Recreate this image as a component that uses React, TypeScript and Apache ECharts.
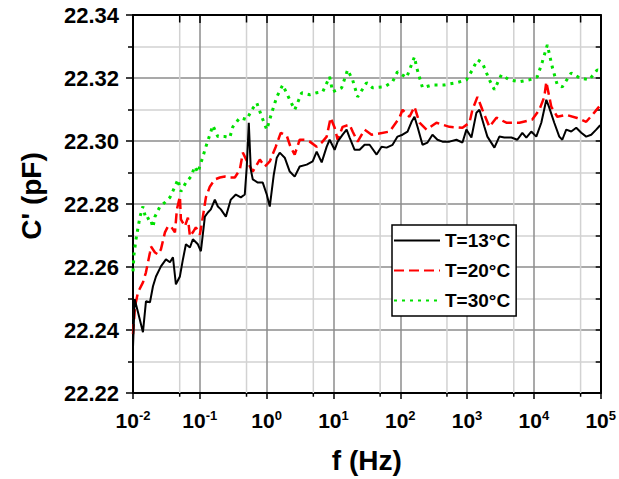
import React, { useEffect, useRef } from "react";
import * as echarts from "echarts";

// x values are log10(f / Hz)
const xTickExponents = [-2, -1, 0, 1, 2, 3, 4, 5];
const yTickLabels = ["22.22", "22.24", "22.26", "22.28", "22.30", "22.32", "22.34"];
const seriesNames = ["T=13°C", "T=20°C", "T=30°C"];

const logF13 = [
  -2.0, -1.975, -1.925, -1.851, -1.806, -1.746, -1.701, -1.656, -1.582, -1.507,
  -1.447, -1.402, -1.358, -1.298, -1.253, -1.208, -1.148, -1.104, -1.029, -0.984,
  -0.924, -0.879, -0.835, -0.775, -0.73, -0.685, -0.61, -0.536, -0.461, -0.386,
  -0.327, -0.297, -0.267, -0.237, -0.207, -0.132, -0.058, 0.002, 0.047, 0.107,
  0.152, 0.196, 0.271, 0.346, 0.42, 0.495, 0.6, 0.689, 0.749, 0.824,
  0.899, 0.943, 1.018, 1.063, 1.138, 1.197, 1.242, 1.317, 1.392, 1.466,
  1.541, 1.646, 1.72, 1.795, 1.885, 1.959, 2.034, 2.109, 2.169, 2.213,
  2.258, 2.333, 2.408, 2.482, 2.557, 2.632, 2.736, 2.841, 2.931, 2.99,
  3.065, 3.14, 3.185, 3.259, 3.304, 3.409, 3.483, 3.558, 3.663, 3.752,
  3.827, 3.887, 3.961, 4.036, 4.111, 4.186, 4.23, 4.305, 4.38, 4.425,
  4.484, 4.559, 4.634, 4.709, 4.783, 4.858, 4.933, 4.992,
];
const c13 = [
  22.2346, 22.2498, 22.2456, 22.2393, 22.2491, 22.2488, 22.2539, 22.257, 22.2602, 22.2624,
  22.2615, 22.2631, 22.2545, 22.257, 22.2624, 22.2672, 22.2662, 22.2688, 22.2672, 22.265,
  22.276, 22.2773, 22.2783, 22.2814, 22.2792, 22.2783, 22.276, 22.2814, 22.283, 22.2821,
  22.283, 22.2919, 22.3058, 22.2909, 22.2878, 22.2868, 22.2868, 22.283, 22.2792, 22.2893,
  22.2947, 22.2963, 22.2947, 22.2903, 22.2887, 22.2919, 22.2925, 22.2935, 22.2966, 22.2932,
  22.2982, 22.3004, 22.2972, 22.2998, 22.302, 22.3036, 22.3011, 22.2972, 22.2972, 22.2988,
  22.2988, 22.2957, 22.2982, 22.2979, 22.2988, 22.3014, 22.302, 22.303, 22.3061, 22.3077,
  22.3045, 22.2988, 22.2995, 22.302, 22.3004, 22.2998, 22.2998, 22.3004, 22.2995, 22.3036,
  22.3011, 22.309, 22.3099, 22.3045, 22.3014, 22.2979, 22.3014, 22.3011, 22.3011, 22.3004,
  22.3026, 22.3011, 22.303, 22.3014, 22.3058, 22.3131, 22.3106, 22.3058, 22.3014, 22.3004,
  22.3036, 22.303, 22.3042, 22.3026, 22.3014, 22.302, 22.3036, 22.305,
];

const logF20 = [
  -2.0, -1.97, -1.925, -1.851, -1.806, -1.746, -1.731, -1.671, -1.626, -1.582,
  -1.522, -1.477, -1.432, -1.372, -1.343, -1.298, -1.283, -1.223, -1.178, -1.148,
  -1.104, -1.059, -0.999, -0.954, -0.909, -0.85, -0.775, -0.7, -0.625, -0.551,
  -0.476, -0.401, -0.356, -0.282, -0.207, -0.102, -0.028, 0.047, 0.137, 0.211,
  0.301, 0.361, 0.42, 0.495, 0.57, 0.645, 0.749, 0.824, 0.899, 0.958,
  1.018, 1.063, 1.138, 1.242, 1.287, 1.362, 1.466, 1.571, 1.661, 1.84,
  1.989, 2.034, 2.139, 2.213, 2.288, 2.393, 2.542, 2.736, 2.931, 3.035,
  3.08, 3.155, 3.229, 3.334, 3.439, 3.588, 3.782, 3.976, 4.081, 4.156,
  4.186, 4.26, 4.35, 4.484, 4.634, 4.783, 4.903, 4.977,
];
const c20 = [
  22.2387, 22.2475, 22.252, 22.2551, 22.2583, 22.2646, 22.2665, 22.2646, 22.264, 22.2656,
  22.271, 22.2729, 22.2729, 22.271, 22.2783, 22.2824, 22.2751, 22.2729, 22.2757, 22.2697,
  22.271, 22.2726, 22.2703, 22.276, 22.2821, 22.2855, 22.2878, 22.2884, 22.2887, 22.2884,
  22.2884, 22.2909, 22.2963, 22.2931, 22.2903, 22.2941, 22.2919, 22.2935, 22.2982, 22.3026,
  22.3017, 22.2979, 22.2957, 22.3004, 22.3004, 22.2998, 22.2982, 22.2995, 22.3014, 22.3074,
  22.3042, 22.3004, 22.3045, 22.3052, 22.303, 22.2998, 22.3036, 22.302, 22.3023, 22.303,
  22.3074, 22.3099, 22.3077, 22.3109, 22.3058, 22.3036, 22.3058, 22.3045, 22.3042, 22.3058,
  22.3099, 22.314, 22.3099, 22.3045, 22.3074, 22.3058, 22.3058, 22.3068, 22.3099, 22.314,
  22.3188, 22.3109, 22.3077, 22.3083, 22.3074, 22.3061, 22.309, 22.3109,
];

const logF30 = [
  -2.0, -1.985, -1.955, -1.895, -1.851, -1.806, -1.746, -1.701, -1.671, -1.597,
  -1.522, -1.447, -1.372, -1.328, -1.283, -1.208, -1.133, -1.074, -1.029, -0.954,
  -0.909, -0.85, -0.805, -0.73, -0.625, -0.551, -0.506, -0.401, -0.297, -0.222,
  -0.147, -0.073, 0.002, 0.077, 0.152, 0.241, 0.346, 0.42, 0.525, 0.645,
  0.749, 0.839, 0.943, 0.988, 1.123, 1.212, 1.287, 1.362, 1.496, 1.586,
  1.765, 1.885, 1.959, 2.094, 2.213, 2.243, 2.333, 2.482, 2.662, 2.841,
  2.99, 3.08, 3.155, 3.229, 3.334, 3.409, 3.513, 3.633, 3.782, 3.932,
  4.051, 4.126, 4.201, 4.275, 4.35, 4.425, 4.559, 4.679, 4.828, 4.948,
  5.0,
];
const c30 = [
  22.2586, 22.264, 22.2688, 22.276, 22.2792, 22.2751, 22.2757, 22.2726, 22.276, 22.2792,
  22.2805, 22.2821, 22.2855, 22.2878, 22.284, 22.2868, 22.2887, 22.2919, 22.29, 22.295,
  22.2982, 22.302, 22.3049, 22.3014, 22.3014, 22.3011, 22.3045, 22.3074, 22.3068, 22.3099,
  22.3121, 22.3077, 22.3036, 22.309, 22.314, 22.3178, 22.3131, 22.3099, 22.3153, 22.3147,
  22.3153, 22.3156, 22.3204, 22.3156, 22.3169, 22.3226, 22.3194, 22.314, 22.3185, 22.3169,
  22.3172, 22.3188, 22.322, 22.3201, 22.3267, 22.3235, 22.3169, 22.3178, 22.3178, 22.3185,
  22.3194, 22.3226, 22.3258, 22.3248, 22.3194, 22.3163, 22.321, 22.3194, 22.3188, 22.3194,
  22.3204, 22.3251, 22.3305, 22.3235, 22.3178, 22.3172, 22.3216, 22.3201, 22.3194, 22.3226,
  22.322,
];

const FONT = "'Liberation Sans', Arial, Helvetica, sans-serif";
const zip = (xs: number[], ys: number[]) =>
  xs.slice(0, Math.min(xs.length, ys.length)).map((x, i) => [x, ys[i]]);

// vertical segments at given x positions, separated by gaps
const segments = (xs: number[], y0: number, y1: number) => {
  const out: (number | string)[][] = [];
  xs.forEach((x) => {
    out.push([x, y0], [x, y1], [x, "-"]);
  });
  return out;
};

export default function App() {
  const ref = useRef<HTMLDivElement>(null);

  useEffect(() => {
    if (!ref.current) return;
    const chart = echarts.init(ref.current, null, { renderer: "svg" });
    const xMin = xTickExponents[0];
    const xMax = xTickExponents[xTickExponents.length - 1];
    const yMin = Number(yTickLabels[0]);
    const yMax = Number(yTickLabels[yTickLabels.length - 1]);
    // minor decade grid at 5 x 10^n
    const minorX = xTickExponents.slice(0, -1).map((e) => e + Math.log10(5));

    const helper = (data: (number | string)[][], color: string, z: number) => ({
      type: "line",
      data,
      z,
      silent: true,
      clip: false,
      symbol: "none",
      showSymbol: false,
      connectNulls: false,
      lineStyle: { color, width: 1.5 },
      itemStyle: { color },
      tooltip: { show: false },
    });

    chart.setOption({
      animation: false,
      backgroundColor: "#fff",
      textStyle: { fontFamily: FONT },
      grid: { left: 133, right: 17, top: 15, bottom: 85, containLabel: false },
      legend: {
        data: seriesNames,
        orient: "vertical",
        left: 392,
        top: 225,
        itemWidth: 46,
        itemHeight: 14,
        itemGap: 11,
        padding: [6, 6, 6, 1],
        borderColor: "#000",
        borderWidth: 1.5,
        borderRadius: 0,
        backgroundColor: "#fff",
        itemStyle: { opacity: 0 },
        textStyle: { fontSize: 19, fontWeight: "bold", color: "#000", fontFamily: FONT },
      },
      xAxis: [
        {
          type: "value",
          min: xMin,
          max: xMax,
          interval: 1,
          position: "bottom",
          name: "f (Hz)",
          nameLocation: "middle",
          nameGap: 53,
          nameTextStyle: { fontSize: 28, fontWeight: "bold", color: "#000", fontFamily: FONT },
          axisLine: { onZero: false, lineStyle: { color: "#000", width: 2 } },
          axisTick: { show: true, length: 6, lineStyle: { color: "#000", width: 1.5 } },
          axisLabel: {
            margin: 16,
            color: "#000",
            formatter: (v: number) => `{b|10}{s|${v}}`,
            rich: {
              b: { fontSize: 21, fontWeight: "bold", color: "#000", fontFamily: FONT, lineHeight: 22 },
              s: {
                fontSize: 13,
                fontWeight: "bold",
                color: "#000",
                fontFamily: FONT,
                lineHeight: 14,
                verticalAlign: "top",
              },
            },
          },
          splitLine: { show: true, lineStyle: { color: "#8c8c8c", width: 1.5 } },
        },
        {
          type: "value",
          min: xMin,
          max: xMax,
          interval: 1,
          position: "top",
          axisLine: { onZero: false, lineStyle: { color: "#000", width: 2 } },
          axisTick: { show: true, inside: true, length: 8, lineStyle: { color: "#000", width: 1.5 } },
          axisLabel: { show: false },
          splitLine: { show: false },
        },
      ],
      yAxis: [
        {
          type: "value",
          min: yMin,
          max: yMax,
          interval: 0.02,
          name: "C' (pF)",
          nameLocation: "middle",
          nameGap: 88,
          nameRotate: 90,
          nameTextStyle: {
            fontSize: 28,
            fontWeight: "bold",
            color: "#000",
            fontFamily: FONT,
            padding: [0, 0, 0, 16],
          },
          axisLine: { onZero: false, lineStyle: { color: "#000", width: 2 } },
          axisTick: { show: true, length: 7, lineStyle: { color: "#000", width: 1.5 } },
          minorTick: { show: true, splitNumber: 2, length: 5, lineStyle: { color: "#000", width: 1.5 } },
          axisLabel: {
            margin: 14,
            fontSize: 22,
            fontWeight: "bold",
            color: "#000",
            fontFamily: FONT,
            formatter: (v: number) => v.toFixed(2),
          },
          splitLine: { show: true, lineStyle: { color: "#8c8c8c", width: 1.5 } },
          minorSplitLine: { show: true, lineStyle: { color: "#d2d2d2", width: 1.5 } },
        },
        {
          type: "value",
          min: yMin,
          max: yMax,
          interval: 0.01,
          position: "right",
          axisLine: { onZero: false, lineStyle: { color: "#000", width: 2 } },
          axisTick: { show: true, inside: true, length: 5, lineStyle: { color: "#000", width: 1.5 } },
          axisLabel: { show: false },
          splitLine: { show: false },
        },
      ],
      series: [
        helper(segments(minorX, yMin, yMax), "#d2d2d2", 1),
        helper(segments(minorX, yMin, yMin - 0.0012), "#000", 2),
        helper(segments(minorX, yMax, yMax - 0.0024), "#000", 2),
        {
          name: seriesNames[0],
          type: "line",
          data: zip(logF13, c13),
          symbol: "none",
          z: 5,
          itemStyle: { color: "#000" },
          lineStyle: { color: "#000", width: 2 },
        },
        {
          name: seriesNames[1],
          type: "line",
          data: zip(logF20, c20),
          symbol: "none",
          z: 4,
          itemStyle: { color: "#ff0000" },
          lineStyle: { color: "#ff0000", width: 2.5, type: [10, 5] },
        },
        {
          name: seriesNames[2],
          type: "line",
          data: zip(logF30, c30),
          symbol: "none",
          z: 3,
          itemStyle: { color: "#00e000" },
          lineStyle: { color: "#00e000", width: 3, type: [3, 5] },
        },
      ],
    });
    return () => chart.dispose();
  }, []);

  return (
    <div
      ref={ref}
      style={{ position: "absolute", left: 0, top: 0, width: 619, height: 479, background: "#fff" }}
    />
  );
}
